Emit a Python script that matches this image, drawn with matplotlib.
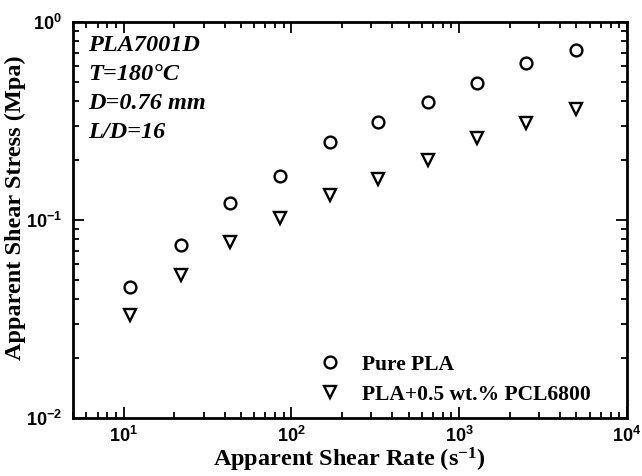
import math

import matplotlib

matplotlib.use("Agg")

import matplotlib.pyplot as plt
from matplotlib.ticker import FixedLocator, FuncFormatter, LogLocator, NullFormatter

# ---------------------------------------------------------------------------
# Data
# ---------------------------------------------------------------------------
shear_rate = [11, 22, 43, 86, 170, 330, 650, 1280, 2500, 5000]
stress_pure = [0.046, 0.0748, 0.122, 0.167, 0.249, 0.314, 0.396, 0.494, 0.618, 0.722]
stress_pcl = [0.0331, 0.0527, 0.0774, 0.102, 0.134, 0.162, 0.201, 0.260, 0.308, 0.365]

label_pure = "Pure PLA"
label_pcl = "PLA+0.5 wt.% PCL6800"
notes = ["PLA7001D", "T=180°C", "D=0.76 mm", "L/D=16"]

plt.rcParams["font.family"] = "Liberation Serif"
plt.rcParams["font.weight"] = "bold"
plt.rcParams["mathtext.fontset"] = "custom"
plt.rcParams["mathtext.rm"] = "Liberation Serif:bold"
plt.rcParams["mathtext.bf"] = "Liberation Serif:bold"
plt.rcParams["mathtext.sf"] = "Liberation Sans:bold"
plt.rcParams["mathtext.default"] = "rm"

fig = plt.figure(figsize=(6.42, 4.76), dpi=100)
ax = fig.add_axes([0.1137, 0.1218, 0.8629, 0.832])

mk = dict(linestyle="none", markerfacecolor="none", markeredgecolor="black",
          markeredgewidth=1.7, markersize=8.5)
ax.plot(shear_rate, stress_pure, marker="o", label=label_pure, **mk)
ax.plot(shear_rate, stress_pcl, marker="v", label=label_pcl, **mk)

ax.set_xscale("log")
ax.set_yscale("log")
ax.set_xlim(5, 1e4)
ax.set_ylim(1e-2, 1)

ax.xaxis.set_major_locator(FixedLocator([10, 100, 1000, 10000]))
ax.yaxis.set_major_locator(FixedLocator([0.01, 0.1, 1]))
ax.xaxis.set_minor_locator(LogLocator(base=10, subs=range(2, 10)))
ax.yaxis.set_minor_locator(LogLocator(base=10, subs=range(2, 10)))
ax.xaxis.set_minor_formatter(NullFormatter())
ax.yaxis.set_minor_formatter(NullFormatter())


def sci(v, pos):
    e = int(round(math.log10(v)))
    return r"$\mathsf{10^{%d}}$" % e


ax.xaxis.set_major_formatter(FuncFormatter(sci))
ax.yaxis.set_major_formatter(FuncFormatter(sci))

ax.tick_params(which="both", direction="in", top=True, right=True, width=1.3, labelsize=13)
ax.tick_params(which="major", length=8)
ax.tick_params(axis="x", which="major", pad=6)
ax.tick_params(axis="y", which="major", pad=8)
ax.tick_params(which="minor", length=4)
for s in ax.spines.values():
    s.set_linewidth(2)

ax.set_xlabel("Apparent Shear Rate (s$^{-1}$)", fontsize=17.5, fontweight="bold")
ax.set_ylabel("Apparent Shear Stress (Mpa)", fontsize=17.5, fontweight="bold")
ax.xaxis.set_label_coords(0.499, -0.07)
ax.yaxis.set_label_coords(-0.084, 0.53)

for i, t in enumerate(notes):
    ax.text(0.028, 0.94 - i * 0.073, t, transform=ax.transAxes, fontsize=17.5,
            fontweight="bold", style="italic", va="center", ha="left")

ax.legend(loc="lower left", bbox_to_anchor=(0.4, -0.015), frameon=False, fontsize=15.5,
          handletextpad=0.75, labelspacing=0.45, handlelength=1.5)

fig.savefig("out.png", dpi=100)
